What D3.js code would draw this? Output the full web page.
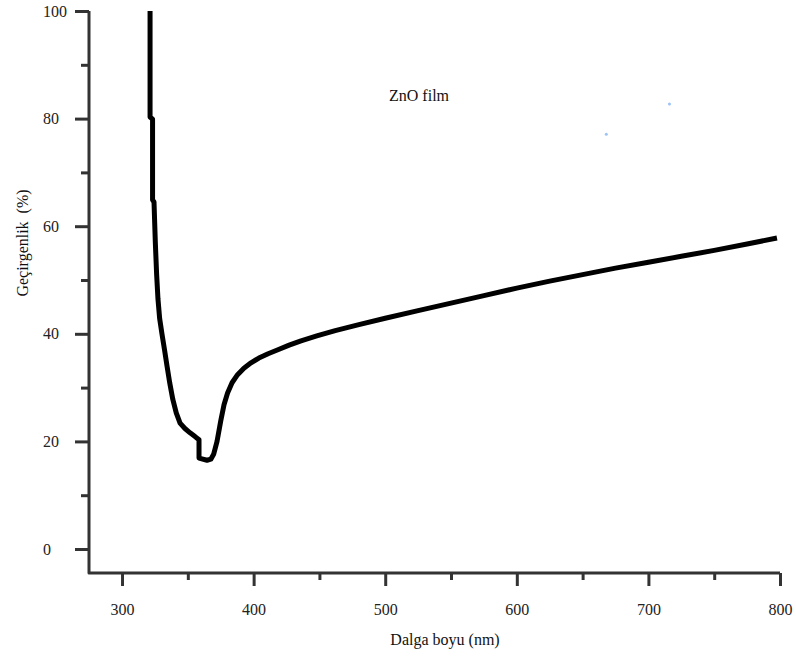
<!DOCTYPE html>
<html>
<head>
<meta charset="utf-8">
<script src="https://cdn.jsdelivr.net/npm/d3@7"></script>
<style>
  body { margin: 0; background: #fff; }
  svg { display: block; }
</style>
</head>
<body>
<svg id="chart" width="796" height="657"></svg>
<script>
// values
const wavelength = [321.3, 321.3, 323.2, 323.2, 324.3, 325.3, 326.3, 327.3, 328.6, 330.4, 332.3, 334.2, 336.3, 338.6, 341.2, 344.1, 347.8, 351.7, 355.5, 358.5, 358.5, 364.6, 367.5, 369.6, 372.2, 375.0, 377.5, 380.2, 383.6, 387.8, 392.6, 398.0, 404.0, 411.0, 418.0, 427.0, 436.0, 448.0, 462.0, 480.0, 500.0, 525.0, 550.0, 575.0, 600.0, 625.0, 650.0, 675.0, 700.0, 725.0, 750.0, 775.0, 797.7];
const transmittance = [100.0, 80.3, 79.9, 64.9, 64.5, 57.0, 51.0, 46.5, 42.8, 39.9, 37.0, 34.0, 30.8, 27.8, 25.3, 23.4, 22.4, 21.6, 20.9, 20.3, 16.9, 16.5, 16.7, 17.6, 20.0, 23.8, 26.8, 29.0, 30.9, 32.4, 33.6, 34.6, 35.5, 36.3, 37.0, 37.9, 38.7, 39.6, 40.6, 41.7, 42.9, 44.3, 45.7, 47.1, 48.5, 49.8, 51.0, 52.2, 53.3, 54.4, 55.5, 56.7, 57.8];

const xTicks = [300, 400, 500, 600, 700, 800];
const xMinorTicks = [350, 450, 550, 650, 750];
const yTicks = [0, 20, 40, 60, 80, 100];
const yMinorTicks = [10, 30, 50, 70, 90];

// stray blue specks in the reference
const speckX = [716, 668];
const speckY = [82.7, 77.1];

const margin = { left: 89, right: 16, top: 11, bottom: 84 };
const width = 796, height = 657;
const serif = '"Liberation Serif", "Times New Roman", serif';

const svg = d3.select('#chart');
const data = wavelength.map((w, i) => ({ w, t: transmittance[i] }));

const x = d3.scaleLinear()
    .domain([274.9, 800])
    .range([margin.left, width - margin.right]);

const y = d3.scaleLinear()
    .domain([-4.46, 100])
    .range([height - margin.bottom, margin.top]);

const axisColor = '#333';

// minor ticks
svg.append('g')
    .attr('transform', `translate(0, ${y(-4.46)})`)
    .call(d3.axisBottom(x).tickValues(xMinorTicks).tickSize(7).tickFormat(''))
    .call(g => g.select('.domain').remove());

svg.append('g')
    .attr('transform', `translate(${x(274.9)}, 0)`)
    .call(d3.axisLeft(y).tickValues(yMinorTicks).tickSize(8).tickFormat(''))
    .call(g => g.select('.domain').remove());

// major ticks + labels
svg.append('g')
    .attr('transform', `translate(0, ${y(-4.46)})`)
    .call(d3.axisBottom(x).tickValues(xTicks).tickSize(13).tickPadding(18).tickFormat(d3.format('d')))
    .call(g => g.select('.domain').remove());

svg.append('g')
    .attr('transform', `translate(${x(274.9)}, 0)`)
    .call(d3.axisLeft(y).tickValues(yTicks).tickSize(14).tickFormat(d3.format('d')))
    .call(g => g.select('.domain').remove())
    .call(g => g.selectAll('text')
        .attr('x', -46)
        .attr('text-anchor', 'start'));

svg.selectAll('.tick text')
    .attr('fill', '#222')
    .style('font-family', serif)
    .style('font-size', '16px');

svg.selectAll('.tick line')
    .attr('stroke', axisColor)
    .attr('stroke-width', 3);

// axis frame
svg.append('path')
    .attr('d', `M${x(274.9)},${y(100)}L${x(274.9)},${y(-4.46)}L${x(800)},${y(-4.46)}`)
    .attr('fill', 'none')
    .attr('stroke', axisColor)
    .attr('stroke-width', 3)
    .attr('stroke-linejoin', 'round');

// curve
const line = d3.line()
    .x(d => x(d.w))
    .y(d => y(d.t));

svg.append('path')
    .datum(data)
    .attr('d', line)
    .attr('fill', 'none')
    .attr('stroke', '#000')
    .attr('stroke-width', 5)
    .attr('stroke-linejoin', 'round')
    .attr('stroke-linecap', 'butt');

// specks
svg.selectAll('circle.speck')
    .data(speckX.map((v, i) => ({ w: v, t: speckY[i] })))
    .enter()
    .append('circle')
    .attr('class', 'speck')
    .attr('cx', d => x(d.w))
    .attr('cy', d => y(d.t))
    .attr('r', 1.5)
    .attr('fill', '#9cc3f5');

// annotation
svg.append('text')
    .attr('x', x(502.9))
    .attr('y', y(83.3))
    .attr('fill', '#111')
    .style('font-family', serif)
    .style('font-size', '16px')
    .text('ZnO film');

// axis titles
svg.append('text')
    .attr('text-anchor', 'middle')
    .attr('x', 445)
    .attr('y', 645)
    .attr('fill', '#111')
    .style('font-family', serif)
    .style('font-size', '16px')
    .text('Dalga boyu (nm)');

svg.append('text')
    .attr('text-anchor', 'middle')
    .attr('transform', 'translate(28, 243) rotate(-90)')
    .attr('fill', '#111')
    .style('font-family', serif)
    .style('font-size', '16px')
    .style('white-space', 'pre')
    .text('Geçirgenlik  (%)');
</script>
</body>
</html>
